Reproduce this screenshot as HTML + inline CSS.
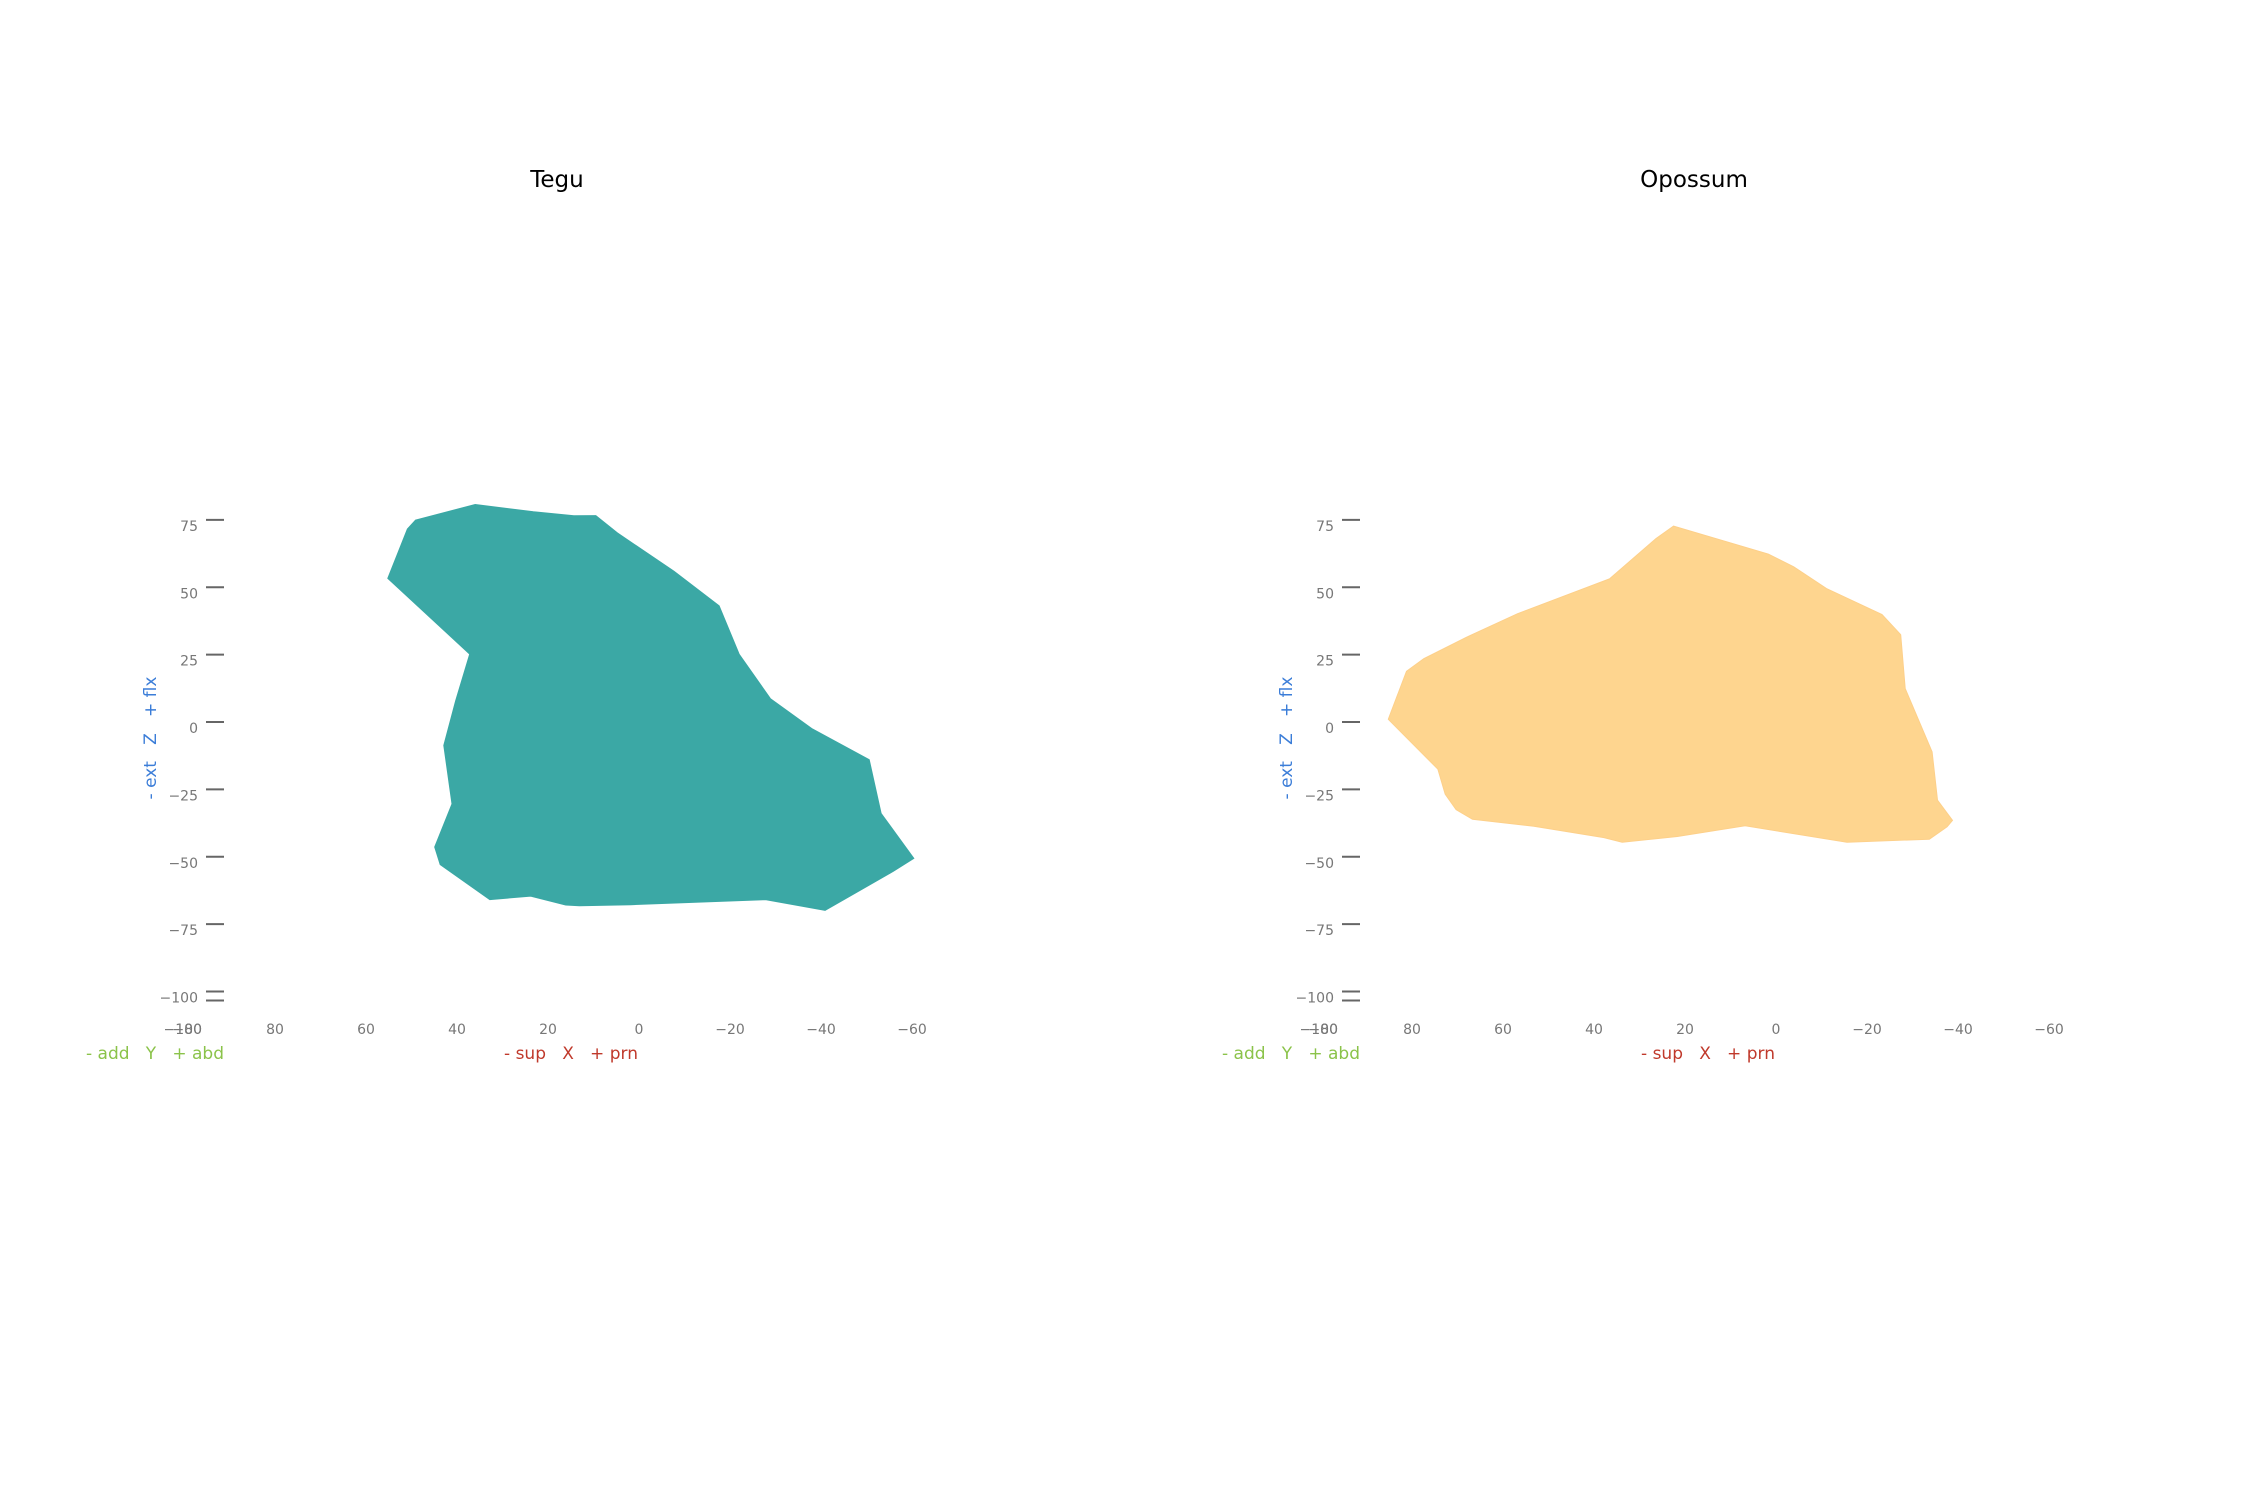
<!DOCTYPE html>
<html><head><meta charset="utf-8"><style>
html,body{margin:0;padding:0;background:#fff;}
svg{display:block;font-family:"DejaVu Sans","Liberation Sans",sans-serif;}
.pre{white-space:pre;}
</style></head><body>
<svg id="chart" width="2250" height="1500" viewBox="0 0 2250 1500"></svg>
<script>
const zTicks=[75,50,25,0,-25,-50,-75,-100];
const xTicks=[80,60,40,20,0,-20,-40,-60];
const teguX=[49.1,36,23.2,14.3,9.5,4.8,-7.7,-17.6,-22,-28.9,-38.1,-50.6,-53.2,-60.4,-56,-40.9,-27.8,1.8,13.1,16.1,23.8,32.8,43.7,44.9,41.1,42.9,40.3,37.2,55.2,50.9];
const teguZ=[74.9,80.7,78,76.5,76.6,70.2,55.9,43.1,25.2,8.6,-2.6,-14,-33.9,-50.6,-55.3,-69.9,-65.9,-67.8,-68.2,-67.9,-64.6,-65.9,-52.9,-46.4,-30.4,-8.7,7.8,25.2,53.3,71.6];
const opoX=[22.5,1.7,-3.9,-11.1,-23.3,-27.4,-28.4,-34.3,-35.5,-38.8,-37.6,-33.7,-15.6,6.8,21.7,33.8,37.8,53.2,66.7,70.3,72.7,74.3,85.2,81.2,77.4,68.1,56.8,36.6,26.4];
const opoZ=[72.7,62.3,57.6,49.5,39.9,32.4,12.4,-11.1,-29,-36.5,-38.9,-43.5,-44.6,-38.5,-42.5,-44.6,-42.9,-38.7,-36.1,-32.5,-26.8,-17.5,1,18.8,23.5,31.4,40.2,53.1,68];

const NS="http://www.w3.org/2000/svg";
const svg=document.getElementById('chart');
function mk(tag,attrs,parent){const e=document.createElementNS(NS,tag);for(const k in attrs)e.setAttribute(k,attrs[k]);(parent||svg).appendChild(e);return e;}
function yS(v){return 722-v*2.695;}

function panel(key,title,x0,tickX,xs,zs,fill,stroke){
  const g=mk('g',{});
  
  
  const xS=v=>x0-v*4.55;
  const t=mk('text',{x:x0-82,y:187,'font-size':23,'text-anchor':'middle',fill:'#000'},g);
  t.textContent=title;
  
  
  zTicks.forEach(v=>{
    const l=mk('line',{x1:tickX,x2:tickX+18,y1:yS(v),y2:yS(v),stroke:'#666','stroke-width':2},g);
    
    
    const tl=mk('text',{x:tickX-8,y:yS(v)+11,'font-size':14,'text-anchor':'end',fill:'#777'},g);
    tl.textContent=String(v).replace('-','\u2212');
    
    
  });
  mk('line',{x1:tickX,x2:tickX+18,y1:1000.5,y2:1000.5,stroke:'#666','stroke-width':2},g);
  ['\u221280','\u2212100'].forEach(s=>{
    const tl=mk('text',{x:tickX-4,y:1034,'font-size':14,'text-anchor':'end',fill:'#777'},g);
    tl.textContent=s;
    
    
  });
  xTicks.forEach(v=>{
    const tl=mk('text',{x:xS(v),y:1034,'font-size':14,'text-anchor':'middle',fill:'#777'},g);
    tl.textContent=String(v).replace('-','\u2212');
    
    
  });
  const pts=xs.map((x,i)=>xS(x).toFixed(1)+','+yS(zs[i]).toFixed(1)).join(' ');
  const p=mk('polygon',{points:pts,fill:fill,stroke:stroke,'stroke-width':1},g);
  
  
  const xt=mk('text',{x:x0-68,y:1059,'font-size':17,'text-anchor':'middle',fill:'#c0392b','class':'pre'},g);
  xt.textContent='- sup   X   + prn';
  
  
  const yt=mk('text',{x:tickX+18,y:1059,'font-size':17,'text-anchor':'end',fill:'#8bc34a','class':'pre'},g);
  yt.textContent='- add   Y   + abd';
  
  
  const zx=tickX-50, zy=738;
  const zt=mk('text',{x:zx,y:zy,'font-size':17,'text-anchor':'middle',fill:'#3b7dd8','class':'pre',transform:'rotate(-90 '+zx+' '+zy+')'},g);
  zt.textContent='- ext   Z   + flx';
  
  
}
panel('tegu','Tegu',639,206,teguX,teguZ,'#3ba8a5','#3ba8a5');
panel('opossum','Opossum',1776,1342,opoX,opoZ,'#fed58f','#fdd08a');
</script>
</body></html>
